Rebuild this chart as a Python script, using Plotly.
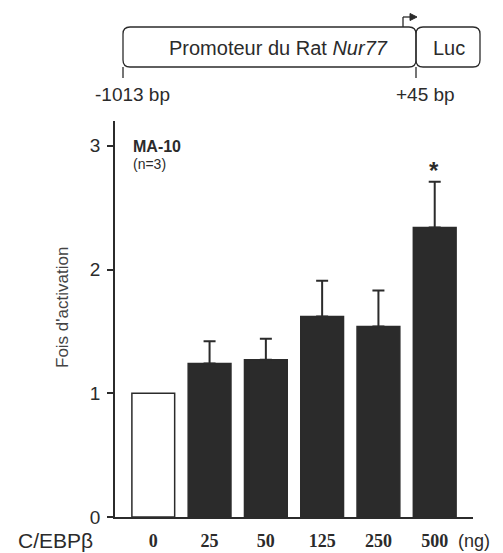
import plotly.graph_objects as go

categories = ["0", "25", "50", "125", "250", "500"]
values = [1.0, 1.24, 1.27, 1.62, 1.54, 2.34]
errors = [0.0, 0.18, 0.17, 0.29, 0.29, 0.37]
bar_colors = ["white", "#2b2b2b", "#2b2b2b", "#2b2b2b", "#2b2b2b", "#2b2b2b"]
ytick_vals = [0, 1, 2, 3]

W, H = 503, 553
L, R, T, B = 115, 30, 121, 36
PW, PH = W - L - R, H - T - B

def px(x):
    return (x - L) / PW

def py(y):
    return (H - B - y) / PH

ink = "#2b2b2b"
fig = go.Figure()
fig.add_trace(go.Bar(
    x=categories, y=values, width=0.76,
    marker=dict(color=bar_colors, line=dict(color=ink, width=1.5)),
    showlegend=False, hoverinfo="skip",
))
fig.add_trace(go.Scatter(
    x=categories[1:], y=values[1:], mode="markers",
    marker=dict(size=0.1, color=ink),
    error_y=dict(type="data", array=errors[1:], arrayminus=[0]*5, symmetric=False,
                 color=ink, thickness=2, width=6),
    showlegend=False, hoverinfo="skip",
))

shapes = []
def rrect(x0, y0, x1, y1, r):
    X0, X1 = px(x0), px(x1)
    Y0, Y1 = py(y0), py(y1)
    rx, ry = r / PW, r / PH
    path = (f"M {X0+rx},{Y0} L {X1-rx},{Y0} Q {X1},{Y0} {X1},{Y0-ry} "
            f"L {X1},{Y1+ry} Q {X1},{Y1} {X1-rx},{Y1} L {X0+rx},{Y1} "
            f"Q {X0},{Y1} {X0},{Y1+ry} L {X0},{Y0-ry} Q {X0},{Y0} {X0+rx},{Y0} Z")
    return dict(type="path", xref="paper", yref="paper", path=path,
                line=dict(color=ink, width=1.3))

shapes.append(rrect(123, 27, 416, 67, 7))
shapes.append(rrect(416, 27, 480, 67, 7))
for xx in (123, 416):
    shapes.append(dict(type="line", xref="paper", yref="paper", x0=px(xx), x1=px(xx),
                       y0=py(67), y1=py(78), line=dict(color=ink, width=1.3)))
# promoter arrow
shapes.append(dict(type="line", xref="paper", yref="paper", x0=px(403), x1=px(403),
                   y0=py(27), y1=py(17), line=dict(color=ink, width=1.3)))
shapes.append(dict(type="line", xref="paper", yref="paper", x0=px(403), x1=px(411),
                   y0=py(17), y1=py(17), line=dict(color=ink, width=1.3)))
shapes.append(dict(type="path", xref="paper", yref="paper",
                   path=f"M {px(410)},{py(13.5)} L {px(417)},{py(17)} L {px(410)},{py(20.5)} Z",
                   fillcolor=ink, line=dict(color=ink, width=1)))

annotations = [
    dict(x=px(278), y=py(48), text="Promoteur du Rat <i>Nur77</i>", font=dict(size=20)),
    dict(x=px(449), y=py(48), text="Luc", font=dict(size=20)),
    dict(x=px(132), y=py(94), text="-1013 bp", font=dict(size=19)),
    dict(x=px(425), y=py(94), text="+45 bp", font=dict(size=19)),
    dict(x=px(131), y=py(146), text="<b>MA-10</b>", font=dict(size=16), xanchor="left"),
    dict(x=px(131), y=py(164), text="(n=3)", font=dict(size=14), xanchor="left"),
    dict(x=px(434), y=py(170), text="<b>*</b>", font=dict(size=24)),
    dict(x=px(55), y=py(540), text="C/EBPβ", font=dict(size=21)),
    dict(x=px(474), y=py(541), text="(ng)", font=dict(size=18)),
    dict(x=px(62), y=py(307), text="Fois d'activation", textangle=-90,
         font=dict(size=17, color="#444")),
]
for a in annotations:
    a.update(xref="paper", yref="paper", showarrow=False)
    a.setdefault("xanchor", "center")
    a["yanchor"] = "middle"

fig.update_layout(
    width=W, height=H,
    margin=dict(l=L, r=R, t=T, b=B, pad=0, autoexpand=False),
    paper_bgcolor="white", plot_bgcolor="white",
    font=dict(family="Liberation Sans, Arial", color=ink),
    shapes=shapes, annotations=annotations,
    xaxis=dict(range=[-0.68, 5.68], showline=True, linecolor=ink, linewidth=1.5,
               ticks="", showgrid=False, zeroline=False, automargin=False,
               tickfont=dict(family="Liberation Serif", size=18, color=ink, weight="bold"),
               ticklabelstandoff=7),
    yaxis=dict(range=[0, 3.2], showline=True, linecolor=ink, linewidth=1.5,
               ticks="outside", ticklen=6, tickwidth=1.5, tickcolor=ink,
               tickvals=ytick_vals, showgrid=False, zeroline=False, automargin=False,
               tickfont=dict(size=19, color=ink), ticklabelstandoff=3),
)
fig.write_html("out.html", config={"displayModeBar": False},
               post_script="document.body.style.margin='0';document.body.style.overflow='hidden';")
